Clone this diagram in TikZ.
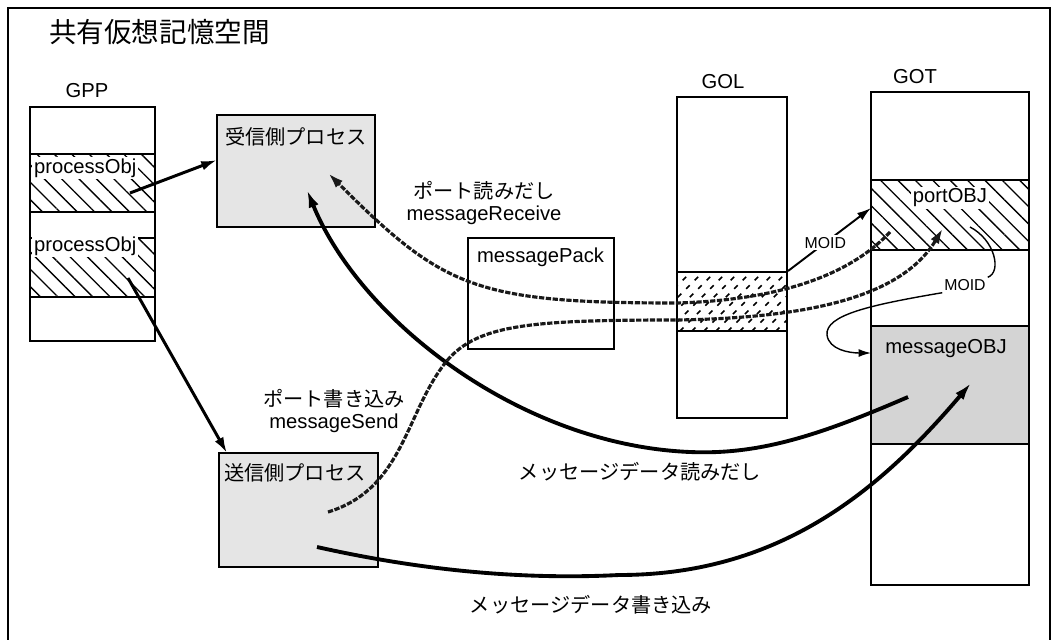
\documentclass[tikz,border=0pt]{standalone}
\usepackage{fontspec}
\setmainfont{Liberation Sans}
\newfontfamily\jp{Noto Sans CJK JP}
\usetikzlibrary{arrows.meta,patterns.meta}

\begin{document}
\begin{tikzpicture}[x=0.02cm,y=-0.02cm,font=\fontsize{11.5}{12}\selectfont]
  \tikzstyle{box}=[draw, line width=1.1pt, inner sep=0pt]
  \tikzstyle{hatch}=[pattern={Lines[angle=-45,distance=7pt,line width=0.75pt]}]
  \tikzstyle{shade}=[fill=black!10]
  \tikzstyle{lbl}=[inner sep=1pt, anchor=west]
  \tikzstyle{small}=[fill=white, inner sep=1pt, font=\fontsize{9}{10}\selectfont]
  \tikzstyle{arr}=[line width=1.7pt, -{Latex[length=9pt,width=5.5pt]}]
  \tikzstyle{flow}=[line width=2.2pt, -{Latex[length=10pt,width=6pt]}]
  \tikzstyle{portln}=[line width=1.8pt, black!90, dash pattern=on 3pt off 0.9pt, -{Latex[length=9pt,width=5.5pt]}]
  \tikzstyle{gd}=[line width=0.9pt, dash pattern=on 2.8pt off 4pt]

  \useasboundingbox (0,0) rectangle (1054,639);
  \draw[line width=1.1pt] (8,645) -- (8,8) -- (1050,8) -- (1050,645);

  \node[anchor=west, font=\fontsize{15.7}{18}\selectfont] (title) at (43,32) {\jp 共有仮想記憶空間};

  \node (gppl) at (87,91) {GPP};
  \node[box, minimum width=2.5cm, minimum height=4.68cm] (gpp) at (92.5,224) {};
  \node[box, hatch, minimum width=2.5cm, minimum height=1.16cm] (pa) at (92.5,183) {};
  \node[box, hatch, minimum width=2.5cm, minimum height=1.18cm] (pb) at (92.5,267.5) {};
  \node[lbl, fill=white] (pal) at (32,168) {processObj};
  \node[lbl, fill=white] (pbl) at (32,246) {processObj};

  \node[box, shade, minimum width=3.16cm, minimum height=2.24cm] (rcv) at (296,171) {};
  \node[lbl] (rcvl) at (223,137) {\jp 受信側プロセス};
  \node[box, shade, minimum width=3.18cm, minimum height=2.28cm] (snd) at (298.5,510) {};
  \node[lbl] (sndl) at (222,473) {\jp 送信側プロセス};

  \node[box, minimum width=2.92cm, minimum height=2.22cm] (pack) at (541,293.5) {};
  \node[lbl] (packl) at (475,257) {messagePack};

  \node (goll) at (723,82) {GOL};
  \node[box, minimum width=2.2cm, minimum height=6.42cm] (gol) at (732,257.5) {};
  \node[box, minimum width=2.2cm, minimum height=1.18cm] (golc) at (732,301.5) {};
  \begin{scope}
    \clip (677,272) rectangle (787,331);
    \foreach \k in {0,...,18} {
      \draw[gd] (608+\k*12,331) -- ++(60,-60);
    }
  \end{scope}

  \node (gotl) at (915,77) {GOT};
  \node[box, minimum width=3.16cm, minimum height=9.86cm] (got) at (950,338.5) {};
  \node[box, hatch, minimum width=3.16cm, minimum height=1.4cm] (port) at (950,215) {};
  \node[box, fill=black!17, minimum width=3.16cm, minimum height=2.36cm] (msg) at (950,385) {};
  \node[fill=white, inner sep=1pt] (portl) at (950,198) {portOBJ};
  \node (msgl) at (946,349) {messageOBJ};

  \coordinate (pa1) at (130,193);
  \coordinate (pb1) at (128,278);
  \coordinate (rcvL) at (217,160);
  \coordinate (sndT) at (227,453);
  \coordinate (rcvA) at (307,190);
  \coordinate (rcvB) at (328,173);
  \coordinate (sndA) at (317,547);
  \coordinate (sndB) at (328,512);
  \coordinate (msgA) at (908,397);
  \coordinate (msgB) at (971,383);
  \coordinate (portA) at (890,232);
  \coordinate (portB) at (943,228);
  \coordinate (portL) at (871,208);
  \coordinate (portC) at (970,227);
  \coordinate (msgL) at (871,353);

  \draw[arr] (pa1) -- (rcvL);
  \draw[arr] (pb1) -- (sndT);
  \draw[flow] (msgA) .. controls (820,435) and (760,455) .. (690,452) .. controls (520,445) and (360,320) .. (rcvA);
  \draw[flow] (sndA) .. controls (420,570) and (520,580) .. (619,575) .. controls (780,575) and (880,490) .. (msgB);
  \draw[portln] (portA) .. controls (850,275) and (780,300) .. (677,303) .. controls (475,303) and (443,288) .. (rcvB);
  \draw[portln] (sndB) .. controls (400,490) and (405,420) .. (440,370) .. controls (470,325) and (520,320) .. (677,320) .. controls (800,318) and (900,300) .. (portB);

  \draw[line width=1.1pt, -{Latex[length=8pt,width=5pt]}] (golc.north east) -- node[small, pos=0.45] (m1) {MOID} (portL);
  \node[small] (m2) at (965,285) {MOID};
  \draw[line width=0.8pt] (portC) .. controls (995,240) and (1002,272) .. (m2.north east);
  \draw[line width=0.8pt, -{Latex[length=7pt,width=4.5pt]}] (m2.south west) .. controls (870,305) and (825,315) .. (827,335) .. controls (829,350) and (850,353) .. (msgL);

  \node[align=center] (rd) at (484,203) {{\jp ポート読みだし}\\messageReceive};
  \node[align=center] (wr) at (334,411) {{\jp ポート書き込み}\\messageSend};
  \node (rdd) at (640,472) {\jp メッセージデータ読みだし};
  \node (wrd) at (591,605) {\jp メッセージデータ書き込み};
\end{tikzpicture}
\end{document}
